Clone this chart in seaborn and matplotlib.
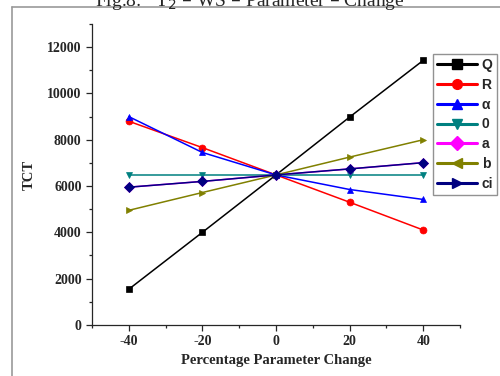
import matplotlib
matplotlib.use("Agg")
import matplotlib.pyplot as plt
import seaborn as sns
from matplotlib.lines import Line2D
from matplotlib.ticker import MultipleLocator

# data
pct_change = [-40, -20, 0, 20, 40]
series_names = ["Q", "R", "\u03b1", "0", "a", "b", "ci"]
tct_Q = [1540, 4000, 6480, 8980, 11430]
tct_R = [8800, 7660, 6480, 5300, 4100]
tct_alpha = [9000, 7450, 6480, 5850, 5420]
tct_zero = [6480, 6480, 6480, 6480, 6480]
tct_a = [5950, 6200, 6480, 6740, 7010]
tct_b = [4950, 5720, 6480, 7250, 8000]
tct_ci = [5950, 6200, 6480, 6740, 7010]

colors = ["black", "red", "blue", "#008080", "magenta", "#808000", "#000080"]
plot_markers = ["s", "o", "^", "v", "D", ">", "D"]
legend_markers = ["s", "o", "^", "v", "D", "<", ">"]

all_vals = [tct_Q, tct_R, tct_alpha, tct_zero, tct_a, tct_b, tct_ci]

sns.set_style("ticks")
plt.rcParams["axes.unicode_minus"] = False
serif = ["Liberation Serif", "DejaVu Serif"]

fig = plt.figure(figsize=(5, 3.76), dpi=100)
ax = fig.add_axes([0.184, 0.136, 0.736, 0.80])

for vals, c, m in zip(all_vals, colors, plot_markers):
    sns.lineplot(
        x=pct_change, y=vals, color=c, marker=m, markersize=5,
        markeredgecolor=c, markerfacecolor=c, markeredgewidth=0.5,
        linewidth=1.1, ax=ax,
    )

ax.set_xlim(-50, 50)
ax.set_ylim(0, 13000)
ax.xaxis.set_major_locator(MultipleLocator(20))
ax.xaxis.set_minor_locator(MultipleLocator(10))
ax.yaxis.set_major_locator(MultipleLocator(2000))
ax.yaxis.set_minor_locator(MultipleLocator(1000))
ax.tick_params(which="major", direction="out", length=4, width=0.9, labelsize=10)
ax.tick_params(which="minor", direction="out", length=2.5, width=0.9)
for lab in ax.get_xticklabels() + ax.get_yticklabels():
    lab.set_family(serif)
    lab.set_fontweight("bold")
sns.despine(ax=ax)
for sp in ax.spines.values():
    sp.set_linewidth(0.9)

ax.set_xlabel("Percentage Parameter Change", family=serif, fontweight="bold", fontsize=10.5)
ax.set_ylabel("TCT", family=serif, fontweight="bold", fontsize=10.5, labelpad=8)

handles = [
    Line2D([], [], color=c, marker=m, markersize=7, linewidth=2.2)
    for c, m in zip(colors, legend_markers)
]
leg = fig.legend(
    handles, series_names, loc="upper left", bbox_to_anchor=(0.866, 0.857),
    frameon=True, fancybox=False, handlelength=2.9, handletextpad=0.3,
    labelspacing=0.42, borderpad=0.3, borderaxespad=0,
    prop={"family": ["Liberation Sans", "DejaVu Sans"], "weight": "bold", "size": 10},
)
leg.get_frame().set_edgecolor("#777777")
leg.get_frame().set_linewidth(1.0)

# cut-off caption and page frame from the original scan
fig.text(0.5, 0.995, "Fig.8:   T$_2$ \u2013 WS \u2013 Parameter \u2013 Change",
         ha="center", va="center", family=serif, fontsize=14)
fig.add_artist(Line2D([12 / 500, 12 / 500], [0, 1 - 7 / 376], color="#999999", lw=1.2))
fig.add_artist(Line2D([12 / 500, 1], [1 - 7 / 376, 1 - 7 / 376], color="#999999", lw=1.2))

fig.savefig("out.png", dpi=100)
